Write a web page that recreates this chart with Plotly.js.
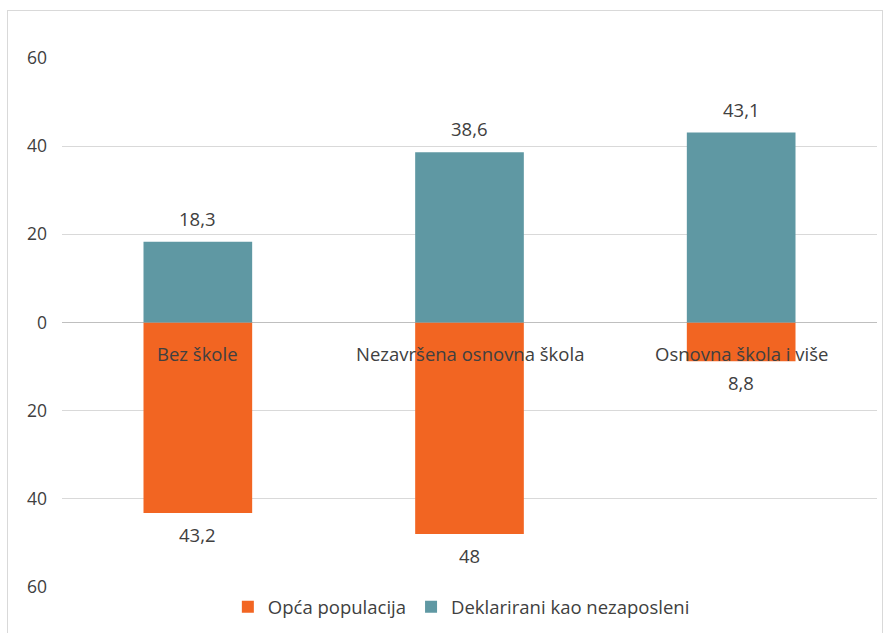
<!DOCTYPE html>
<html>
<head>
<meta charset="utf-8">
<script src="https://cdn.plot.ly/plotly-3.0.1.min.js"></script>
<style>
  html, body { margin: 0; padding: 0; background: #ffffff; }
  #wrap { position: relative; width: 892px; height: 633px; overflow: hidden; }
  #chart { width: 892px; height: 633px; }
  #frame { position: absolute; left: 7px; top: 10px; width: 876px; height: 640px; border: 1px solid #D9D9D9; pointer-events: none; box-sizing: border-box; }
</style>
</head>
<body>
<div id="wrap">
  <div id="chart"></div>
  <div id="frame"></div>
</div>
<script>
const categories = ["Bez škole", "Nezavršena osnovna škola", "Osnovna škola i više"];
const opcaPopulacija = [43.2, 48, 8.8];
const deklarirani = [18.3, 38.6, 43.1];
const seriesNames = ["Opća populacija", "Deklarirani kao nezaposleni"];
const yTickVals = [-60, -40, -20, 0, 20, 40, 60];
const yTickText = ["60", "40", "20", "0", "20", "40", "60"];

const ORANGE = "#F26522";
const TEAL = "#5F98A3";
const TEXT = "#404040";
const FONT = "'Open Sans', Lato, sans-serif";
const FS = 18.5;

const fmt = v => String(v).replace(".", ",");

const traces = [
  {
    type: "bar",
    name: seriesNames[0],
    x: categories,
    y: opcaPopulacija.map(v => -v),
    marker: { color: ORANGE },
    hoverinfo: "skip"
  },
  {
    type: "bar",
    name: seriesNames[1],
    x: categories,
    y: deklarirani,
    marker: { color: TEAL },
    hoverinfo: "skip"
  }
];

const annotations = [];
categories.forEach((c, i) => {
  annotations.push({
    x: c, y: deklarirani[i], xref: "x", yref: "y",
    text: fmt(deklarirani[i]), showarrow: false,
    yanchor: "bottom", yshift: 9,
    font: { family: FONT, size: FS, color: TEXT }
  });
  annotations.push({
    x: c, y: -opcaPopulacija[i], xref: "x", yref: "y",
    text: fmt(opcaPopulacija[i]), showarrow: false,
    yanchor: "top", yshift: -7,
    font: { family: FONT, size: FS, color: TEXT }
  });
  annotations.push({
    x: c, y: 0, xref: "x", yref: "y",
    text: c, showarrow: false,
    yanchor: "top", yshift: -16,
    font: { family: FONT, size: FS, color: TEXT }
  });
});

const layout = {
  width: 892, height: 633,
  margin: { l: 62, r: 15, t: 58, b: 46, autoexpand: false },
  paper_bgcolor: "rgba(0,0,0,0)",
  plot_bgcolor: "#ffffff",
  barmode: "relative",
  bargap: 0.6,
  font: { family: FONT, size: 16, color: TEXT },
  showlegend: true,
  legend: {
    orientation: "h",
    x: 0.49, xanchor: "center",
    y: -0.038, yanchor: "middle",
    font: { family: FONT, size: FS, color: TEXT },
    itemclick: false, itemdoubleclick: false
  },
  xaxis: {
    showticklabels: false,
    showgrid: false,
    zeroline: false,
    showline: false,
    ticks: "",
    fixedrange: true
  },
  yaxis: {
    range: [-60, 60],
    tickvals: yTickVals,
    ticktext: yTickText,
    showgrid: true,
    gridcolor: "#D9D9D9",
    gridwidth: 1,
    zeroline: true,
    zerolinecolor: "#BFBFBF",
    zerolinewidth: 1.5,
    showline: false,
    ticks: "",
    ticklabelstandoff: 14,
    tickfont: { family: FONT, size: 17.5, color: TEXT },
    fixedrange: true
  },
  annotations: annotations
};

Plotly.newPlot("chart", traces, layout, { displayModeBar: false, staticPlot: true });
</script>
</body>
</html>
